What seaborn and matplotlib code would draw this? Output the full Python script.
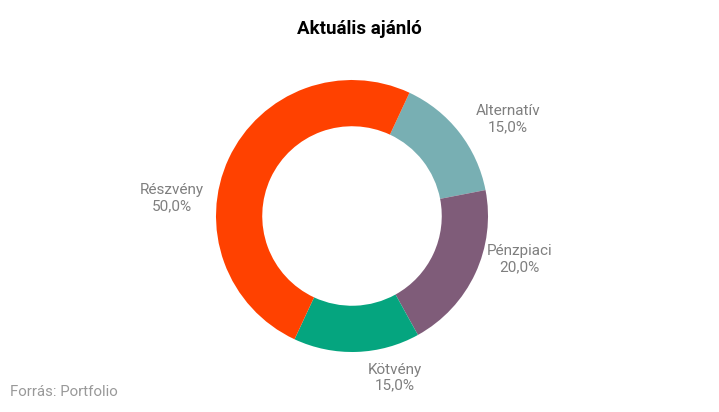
import numpy as np
import seaborn as sns
import matplotlib.pyplot as plt

sns.set_theme(style='white')
plt.rcParams['font.family'] = ['Roboto', 'DejaVu Sans']

# adatok
categories = ['Alternatív', 'Pénzpiaci', 'Kötvény', 'Részvény']
shares = [15.0, 20.0, 15.0, 50.0]
colors = ['#78AFB3', '#7F5C79', '#05A57F', '#FF4100']

# címkék helye: (szög fokban, távolság a sugárhoz képest)
label_angle = [31.9, -14.4, -75.1, 174.3]
label_dist = [1.35, 1.27, 1.23, 1.33]

fig = plt.figure(figsize=(7.19, 4.12), dpi=100)
ax = fig.add_axes([0, 0, 1, 1])

wedges, _ = ax.pie(shares, colors=colors, startangle=65, counterclock=False,
                   radius=1, wedgeprops=dict(width=0.34, linewidth=0))

for name, val, ang, d in zip(categories, shares, label_angle, label_dist):
    a = np.deg2rad(ang)
    ax.text(d * np.cos(a), d * np.sin(a), f'{name}\n{val:.1f}%'.replace('.', ','),
            ha='center', va='center', fontsize=11, color='#7f7f7f', linespacing=1.2)

# a kép pixelarányai: középpont (352, 216), sugár 136 px
ax.set_xlim(-352 / 136, 367 / 136)
ax.set_ylim(-196 / 136, 216 / 136)
ax.set_aspect('equal')
ax.axis('off')

fig.text(0.5, 1 - 29 / 412, 'Aktuális ajánló', ha='center', va='center',
         fontsize=13.5, fontweight='bold', color='black')
fig.text(10 / 719, 1 - 392 / 412, 'Forrás: Portfolio', ha='left', va='center',
         fontsize=10.8, color='#999999')

fig.savefig('out.png', dpi=100)
